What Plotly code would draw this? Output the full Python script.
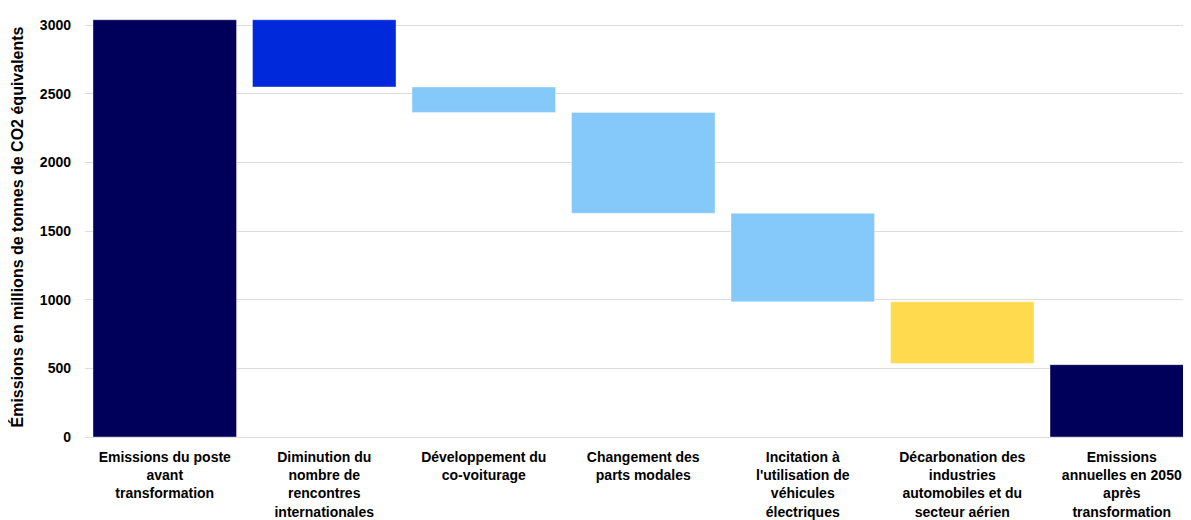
import plotly.graph_objects as go

# étapes du scénario (millions de tonnes CO2 eq)
categories = [
    "Emissions du poste<br>avant<br>transformation",
    "Diminution du<br>nombre de<br>rencontres<br>internationales",
    "Développement du<br>co-voiturage",
    "Changement des<br>parts modales",
    "Incitation à<br>l'utilisation de<br>véhicules<br>électriques",
    "Décarbonation des<br>industries<br>automobiles et du<br>secteur aérien",
    "Emissions<br>annuelles en 2050<br>après<br>transformation",
]
start_value = 3040
reductions = [490, 185, 735, 645, 450]
final_value = 527
colors = ["#00005A", "#0029DB", "#85C8FA", "#85C8FA", "#85C8FA", "#FFDA4F", "#00005A"]

# bases / hauteurs des barres flottantes
bases = [0]
heights = [start_value]
level = start_value
for r in reductions:
    level -= r
    bases.append(level)
    heights.append(r)
bases.append(0)
heights.append(final_value)

fig = go.Figure()
fig.add_trace(go.Bar(
    x=list(range(len(categories))), y=heights, base=bases,
    marker=dict(color=colors, line=dict(color="rgba(255,255,255,0.4)", width=1)),
    width=0.9, showlegend=False, hoverinfo="skip",
))

# page body has an 8px margin: keep the figure inside the window
fig.update_layout(
    width=1183, height=512,
    margin=dict(l=77, r=0, t=9, b=83),
    plot_bgcolor="white", paper_bgcolor="white",
    font=dict(family="Liberation Sans, Arial, sans-serif", size=14, color="black"),
    bargap=0.1,
)
fig.update_xaxes(
    tickvals=list(range(len(categories))),
    ticktext=["<b>%s</b>" % c for c in categories],
    range=[-0.5, 6.434], showgrid=False, showline=False, ticks="",
    tickangle=0, automargin=False, ticklabelstandoff=10,
)
fig.update_yaxes(
    range=[0, 3060], tickvals=[0, 500, 1000, 1500, 2000, 2500, 3000],
    ticktext=["<b>%d</b>" % v for v in [0, 500, 1000, 1500, 2000, 2500, 3000]],
    showgrid=True, gridcolor="#DDDDDD", gridwidth=1,
    zeroline=True, zerolinecolor="#DDDDDD", zerolinewidth=1,
    ticks="", ticklabelstandoff=13, automargin=False,
    title=dict(text="<b>Émissions en millions de tonnes de CO2 équivalents</b>",
               font=dict(size=16), standoff=14),
)

fig.write_html("out.html")
